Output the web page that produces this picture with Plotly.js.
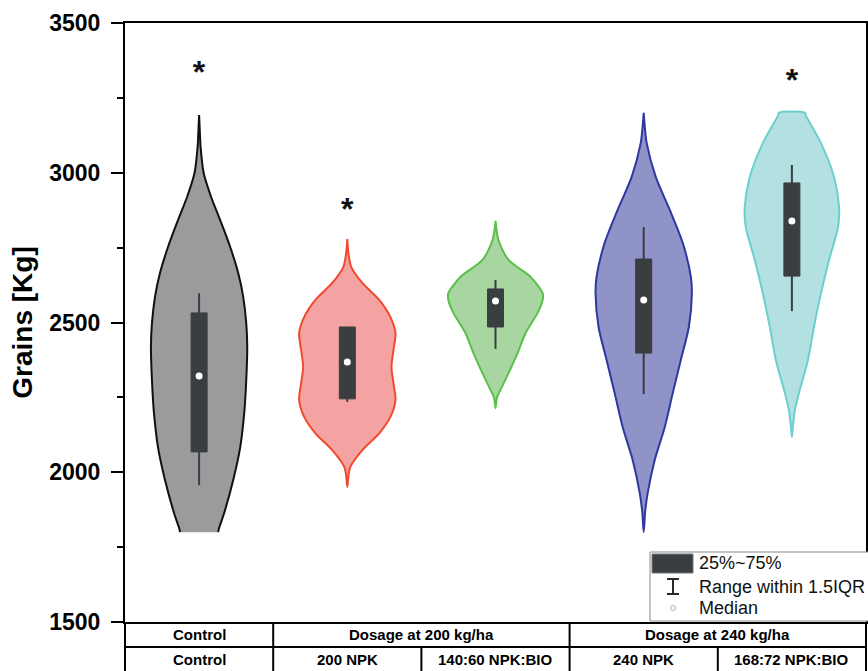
<!DOCTYPE html>
<html>
<head>
<meta charset="utf-8">
<script src="https://cdn.plot.ly/plotly-3.0.1.min.js"></script>
<style>html,body{margin:0;padding:0;background:#fff;}#chart{width:868px;height:671px;}</style>
</head>
<body>
<div id="chart"></div>
<script>
// ---------- DATA ----------
const categories = ['Control', '200 NPK', '140:60 NPK:BIO', '240 NPK', '168:72 NPK:BIO'];
const groupLabels = ['Control', 'Dosage at 200 kg/ha', 'Dosage at 240 kg/ha'];
const groupFirst = [0, 1, 3];
const groupLast = [0, 2, 4];

// violin outlines: grain levels (Kg) and relative density (0..48 scale)
const controlLevels = [1800, 1810, 1864, 1974, 2084, 2198, 2308, 2418, 2498, 2585, 2665, 2752, 2842, 2919, 3000, 3086, 3140, 3193];
const controlDensity = [19, 19.6, 25, 34, 41, 45, 47, 48, 47, 44, 39, 31, 21, 12, 4.5, 1.5, 0.7, 0];
const npk200Levels = [1951, 1990, 2018, 2074, 2131, 2185, 2241, 2298, 2351, 2408, 2465, 2518, 2575, 2632, 2685, 2730, 2779];
const npk200Density = [0, 1.2, 3, 15, 32, 43, 48, 46, 44, 46, 48, 43, 32, 15, 4, 1.2, 0];
const bio140Levels = [2214, 2250, 2275, 2331, 2398, 2465, 2532, 2575, 2598, 2652, 2709, 2775, 2805, 2839];
const bio140Density = [0, 1.5, 5, 13, 22, 30, 42, 47, 47, 35, 13, 3, 1.2, 0];
const npk240Levels = [1800, 1870, 1931, 2041, 2151, 2265, 2375, 2485, 2598, 2652, 2765, 2876, 2986, 3099, 3150, 3200];
const npk240Density = [0, 1.5, 4, 11, 21, 29, 37, 45, 48, 47, 39, 26, 12, 3, 1.2, 0];
const bio168Levels = [2118, 2160, 2208, 2265, 2375, 2485, 2598, 2709, 2819, 2886, 2986, 3099, 3190, 3200];
const bio168Density = [0, 1.2, 3, 7, 16, 22, 29, 37, 46, 47, 42, 29, 14, 13];

const violinLevels = [controlLevels, npk200Levels, bio140Levels, npk240Levels, bio168Levels];
const violinDensity = [controlDensity, npk200Density, bio140Density, npk240Density, bio168Density];

// box statistics
const q1Values = [2068, 2245, 2485, 2398, 2655];
const medianValues = [2321, 2368, 2572, 2575, 2839];
const q3Values = [2532, 2485, 2612, 2712, 2966];
const lowerWhisker = [1957, 2235, 2412, 2261, 2538];
const upperWhisker = [2598, 2485, 2642, 2819, 3026];

// significance marks
const sigCategory = [0, 1, 4];
const sigLevel = [3326, 2869, 3300];

const legendLabels = ['25%~75%', 'Range within 1.5IQR', 'Median'];

// ---------- STYLE ----------
const fillColors = ['#9a9b9d', '#f4a3a2', '#a7d6a1', '#8f93c8', '#b3e1e1'];
const lineColors = ['#111111', '#ef4a2b', '#5cbf4b', '#2d399f', '#6ccfcf'];
const boxColor = '#3b3e41';
const densityMax = 48, halfWidth = 0.325, boxHalf = 0.054;
const font = 'Arial, "Liberation Sans", sans-serif';

const traces = [];
categories.forEach((c, i) => {
  const lv = violinLevels[i], dn = violinDensity[i];
  const xs = [], ys = [];
  for (let k = 0; k < lv.length; k++) { xs.push(i - dn[k] / densityMax * halfWidth); ys.push(lv[k]); }
  for (let k = lv.length - 1; k >= 0; k--) { xs.push(i + dn[k] / densityMax * halfWidth); ys.push(lv[k]); }
  traces.push({
    type: 'scatter', mode: 'lines', x: xs, y: ys, fill: 'toself',
    fillcolor: fillColors[i], line: {color: lineColors[i], width: 2, shape: 'spline', smoothing: 0.8},
    hoverinfo: 'skip', showlegend: false, name: c
  });
});
categories.forEach((c, i) => {
  // whisker (range within 1.5 IQR)
  traces.push({
    type: 'scatter', mode: 'lines', x: [i, i], y: [lowerWhisker[i], upperWhisker[i]],
    line: {color: boxColor, width: 2}, hoverinfo: 'skip', showlegend: false
  });
  // interquartile box
  traces.push({
    type: 'scatter', mode: 'lines', x: [i - boxHalf, i + boxHalf, i + boxHalf, i - boxHalf, i - boxHalf],
    y: [q1Values[i], q1Values[i], q3Values[i], q3Values[i], q1Values[i]], fill: 'toself',
    fillcolor: boxColor, line: {color: boxColor, width: 1}, hoverinfo: 'skip', showlegend: false
  });
});
traces.push({
  type: 'scatter', mode: 'markers', x: categories.map((c, i) => i), y: medianValues,
  marker: {color: '#ffffff', size: 7}, showlegend: false, hoverinfo: 'skip'
});
traces.push({
  type: 'scatter', mode: 'text', x: sigCategory, y: sigLevel, text: sigCategory.map(() => '*'),
  textposition: 'middle center', textfont: {family: font, size: 32, color: '#111', weight: 'bold'},
  showlegend: false, hoverinfo: 'skip'
});

// ---------- LAYOUT ----------
const W = 868, H = 671, mL = 125, mR = 2, mT = 23, mB = 49;
const pw = W - mL - mR, ph = H - mT - mB;
const px = x => (x - mL) / pw;
const py = y => 1 - (y - mT) / ph;

const row1 = py(634.5), row2 = py(659.5);
const shapes = [];
const annotations = [];
const lineStyle = {color: '#000', width: 2};
// table
shapes.push({type: 'line', xref: 'paper', yref: 'paper', x0: 0, x1: 1, y0: py(647), y1: py(647), line: lineStyle});
shapes.push({type: 'line', xref: 'paper', yref: 'paper', x0: 0, x1: 0, y0: 0, y1: py(672), line: lineStyle});
shapes.push({type: 'line', xref: 'paper', yref: 'paper', x0: 1, x1: 1, y0: 0, y1: py(672), line: lineStyle});
groupFirst.forEach((g, j) => {
  if (j > 0) shapes.push({type: 'line', xref: 'x', yref: 'paper', x0: g - 0.5, x1: g - 0.5, y0: 0, y1: py(672), line: lineStyle});
  annotations.push({xref: 'x', yref: 'paper', x: (g + groupLast[j]) / 2, y: row1, text: groupLabels[j], showarrow: false,
    font: {family: font, size: 15, color: '#000', weight: 'bold'}, xanchor: 'center', yanchor: 'middle'});
});
categories.forEach((c, i) => {
  if (i > 0 && groupFirst.indexOf(i) < 0)
    shapes.push({type: 'line', xref: 'x', yref: 'paper', x0: i - 0.5, x1: i - 0.5, y0: py(647), y1: py(672), line: lineStyle});
  annotations.push({xref: 'x', yref: 'paper', x: i, y: row2, text: c, showarrow: false,
    font: {family: font, size: 15, color: '#000', weight: 'bold'}, xanchor: 'center', yanchor: 'middle'});
});
// legend
shapes.push({type: 'rect', xref: 'paper', yref: 'paper', x0: px(650), x1: px(870), y0: py(621), y1: py(552),
  line: {color: '#8a8a8a', width: 1}, fillcolor: '#ffffff'});
shapes.push({type: 'rect', xref: 'paper', yref: 'paper', x0: px(652), x1: px(693), y0: py(573), y1: py(554),
  line: {color: '#777', width: 1}, fillcolor: boxColor});
shapes.push({type: 'line', xref: 'paper', yref: 'paper', x0: px(673), x1: px(673), y0: py(579), y1: py(594), line: {color: '#2a2a2a', width: 2}});
shapes.push({type: 'line', xref: 'paper', yref: 'paper', x0: px(667), x1: px(679), y0: py(579), y1: py(579), line: {color: '#2a2a2a', width: 2}});
shapes.push({type: 'line', xref: 'paper', yref: 'paper', x0: px(667), x1: px(679), y0: py(594), y1: py(594), line: {color: '#2a2a2a', width: 2}});
shapes.push({type: 'circle', xref: 'paper', yref: 'paper', x0: px(670.5), x1: px(675.5), y0: py(610.5), y1: py(605.5),
  line: {color: '#9fb3c8', width: 1}});
const legendY = [563, 587, 608];
legendLabels.forEach((t, k) => {
  annotations.push({xref: 'paper', yref: 'paper', x: px(697), y: py(legendY[k]), text: t, showarrow: false,
    font: {family: font, size: 18, color: '#111'}, xanchor: 'left', yanchor: 'middle'});
});

const layout = {
  width: W, height: H,
  margin: {l: mL, r: mR, t: mT, b: mB, pad: 0},
  paper_bgcolor: '#fff', plot_bgcolor: '#fff',
  showlegend: false,
  xaxis: {range: [-0.5, 4.5], showgrid: false, zeroline: false, showticklabels: false, ticks: '',
    showline: true, mirror: true, linecolor: '#000', linewidth: 2, fixedrange: true},
  yaxis: {range: [1500, 3500], dtick: 500, tick0: 1500, showgrid: false, zeroline: false,
    ticks: 'outside', ticklen: 12, tickwidth: 2, tickcolor: '#000', ticklabelstandoff: 6,
    minor: {dtick: 250, ticks: 'outside', ticklen: 6, tickwidth: 2, tickcolor: '#000', showgrid: false},
    showline: true, mirror: true, linecolor: '#000', linewidth: 2,
    tickfont: {family: font, size: 23, color: '#000', weight: 'bold'},
    title: {text: 'Grains [Kg]', font: {family: font, size: 28, color: '#000', weight: 'bold'}, standoff: 8},
    fixedrange: true},
  shapes: shapes,
  annotations: annotations
};

Plotly.newPlot('chart', traces, layout, {displayModeBar: false, staticPlot: true});
</script>
</body>
</html>
